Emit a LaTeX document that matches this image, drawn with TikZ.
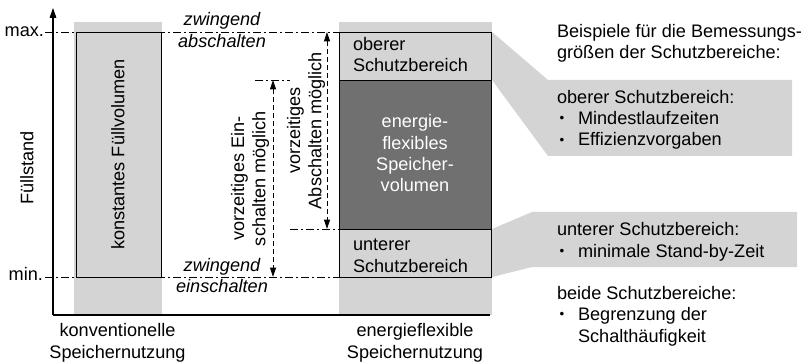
\documentclass[tikz,border=0pt]{standalone}
\usepackage{fontspec}
\setmainfont{Liberation Sans}
\usetikzlibrary{arrows.meta}
\definecolor{zonefill}{RGB}{212,212,212}
\definecolor{flexfill}{RGB}{112,112,112}
\newcommand{\blt}{\makebox[15.75pt][l]{\hspace{2pt}\raisebox{1.3pt}{\fontsize{10}{16}\selectfont •}}}
\begin{document}
\begin{tikzpicture}[x=0.75pt,y=-0.75pt,
  every node/.style={font=\fontsize{13.6}{16}\selectfont, inner sep=0pt, outer sep=0pt},
  txt/.style={align=left, anchor=base west},
  ctxt/.style={align=center, anchor=base},
  itl/.style={font=\fontsize{13.6}{16}\selectfont\itshape, anchor=base},
  vtxt/.style={align=center, rotate=90, anchor=center},
  limitline/.style={line width=0.6pt, dash pattern=on 6pt off 2.25pt on 1.5pt off 2.25pt},
  rangearrow/.style={line width=0.6pt, dash pattern=on 3.75pt off 2.25pt,
    {Triangle[length=7pt,width=4.5pt]}-{Triangle[length=7pt,width=4.5pt]}},
  zone/.style={draw=black, line width=0.6pt, fill=zonefill},
  flexzone/.style={draw=black, line width=0.6pt, fill=flexfill},
  axisline/.style={line width=0.8pt}]
\useasboundingbox (0,0) rectangle (802,363);

% column backgrounds
\fill[zonefill] (74,22) rectangle (162,315);
\fill[zonefill] (339,22) rectangle (492,315);

% callouts pointing at the protection ranges
\fill[zonefill] (492,32) -- (548,80) -- (792,80) -- (792,156) -- (548,156) -- (492,80) -- cycle;
\fill[zonefill] (492,229) -- (532,212) -- (797,212) -- (797,267) -- (532,267) -- (492,277) -- cycle;

% conventional storage
\draw[zone] (76,32) rectangle (161,277);
\node[vtxt] (konst) at (118,154.5) {konstantes Füllvolumen};

% energy-flexible storage (multi-line nodes sit on the baseline of their last line)
\draw[zone] (339,32) rectangle (491,80);
\draw[flexzone] (339,80) rectangle (491,229);
\draw[zone] (339,229) rectangle (491,277);
\node[txt] (oben) at (353,72) {oberer\\Schutzbereich};
\node[ctxt, text=white] (flex) at (415,192) {energie-\\flexibles\\Speicher-\\volumen};
\node[txt] (unten) at (353,272) {unterer\\Schutzbereich};

% axes
\coordinate (origin) at (53,315);
\coordinate (ytop) at (53,8);
\coordinate (xend) at (490,315);
\draw[axisline, -{Triangle[length=7.5pt,width=5pt]}] (origin) -- (ytop);
\draw[axisline] (origin) -- (xend);
\node[vtxt] (fuell) at (27,168) {Füllstand};
\node[anchor=base east] (maxlbl) at (44,37) {max.};
\node[anchor=base east] (minlbl) at (43,280) {min.};

% limit lines
\coordinate (maxA) at (45,32);
\coordinate (maxB) at (339,32);
\coordinate (minA) at (45,277);
\coordinate (minB) at (339,277);
\coordinate (einA) at (255,80);
\coordinate (einB) at (290,80);
\coordinate (ausA) at (290,229);
\coordinate (ausB) at (339,229);
\draw[limitline] (maxA) -- (maxB);
\draw[limitline] (minA) -- (minB);
\draw[limitline] (einA) -- (einB);
\draw[limitline] (ausA) -- (ausB);

\node[itl] (zw1) at (222,25.5) {zwingend};
\node[itl] (absch) at (222,48) {abschalten};
\node[itl] (zw2) at (222,271) {zwingend};
\node[itl] (einsch) at (222,292) {einschalten};

% early switching ranges
\coordinate (einTop) at (273,80);
\coordinate (einBot) at (273,277);
\coordinate (ausTop) at (327,32);
\coordinate (ausBot) at (327,229);
\draw[rangearrow] (einTop) -- (einBot);
\draw[rangearrow] (ausTop) -- (ausBot);
\node[vtxt] (vein) at (250,178.5) {vorzeitiges Ein-\\schalten möglich};
\node[vtxt] (vaus) at (306,130.5) {vorzeitiges\\Abschalten möglich};

% column captions
\node[ctxt] (konv) at (117.5,358) {konventionelle\\Speichernutzung};
\node[ctxt] (eflex) at (415,358) {energieflexible\\Speichernutzung};

% design quantities
\node[txt] (bsp) at (557,59) {Beispiele für die Bemessungs-\\größen der Schutzbereiche:};
\node[txt] (bspo) at (557,146) {oberer Schutzbereich:\\\blt Mindestlaufzeiten\\\blt Effizienzvorgaben};
\node[txt] (bspu) at (557,257) {unterer Schutzbereich:\\\blt minimale Stand-by-Zeit};
\node[txt] (bspb) at (557,342) {beide Schutzbereiche:\\\blt Begrenzung der\\\hspace*{15.75pt}Schalthäufigkeit};
\end{tikzpicture}
\end{document}
